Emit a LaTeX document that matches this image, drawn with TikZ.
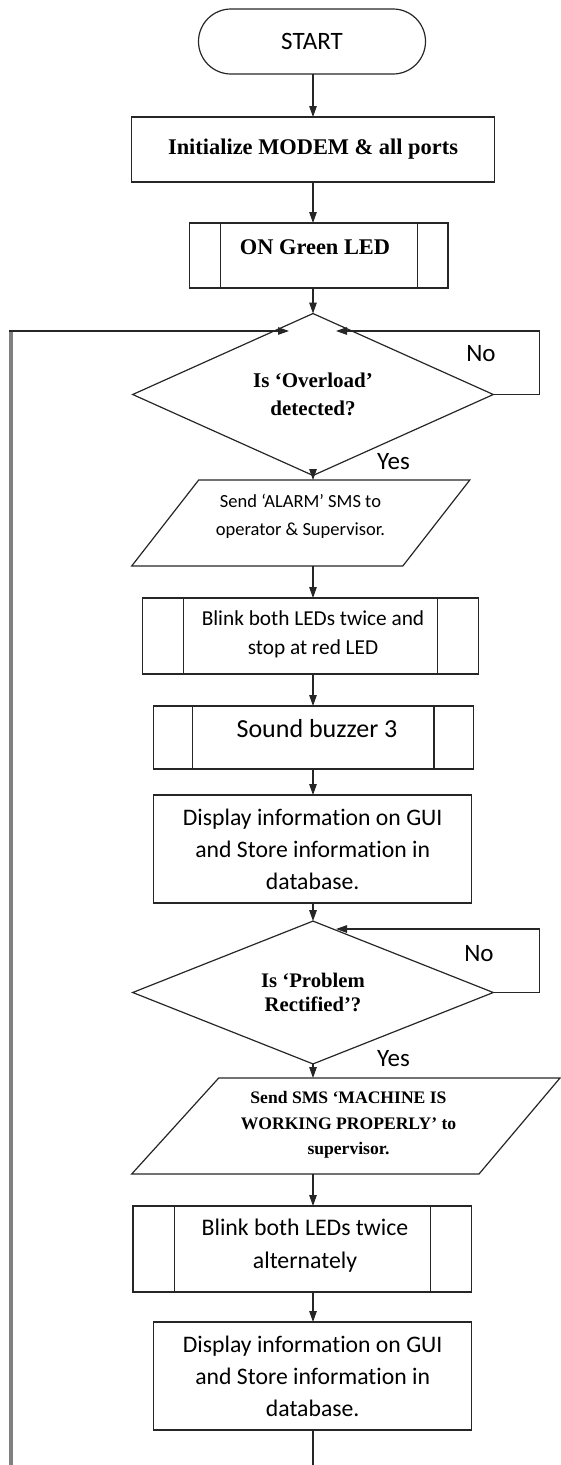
\documentclass[tikz,border=0pt]{standalone}
\usepackage{fontspec}
\setmainfont{Liberation Serif}
\newfontfamily\calib[Ligatures=NoCommon]{Carlito}
\usetikzlibrary{shapes.geometric,shapes.misc,arrows.meta}
\begin{document}
\begin{tikzpicture}[x=1pt,y=-1pt,
  line width=1.2pt,
  every node/.style={inner sep=0pt, outer sep=0pt, text=black},
  ln/.style={draw=black!85, line width=1.2pt},
  procbox/.style={ln, rectangle},
  termbox/.style={ln, rounded rectangle},
  decbox/.style={ln, diamond},
  arr/.style={draw=black!85, line width=1.2pt, -{Triangle[length=11pt,width=7.5pt]}},
  serifA/.style={font=\bfseries\fontsize{22.4}{28}\selectfont},
  serifB/.style={font=\bfseries\fontsize{21}{27.5}\selectfont, align=center},
  calA/.style={font=\calib\fontsize{23.7}{32}\selectfont, align=center},
  lab/.style={font=\calib\fontsize{25}{30}\selectfont}
]
\useasboundingbox (0,0) rectangle (561,1465);
\clip (0,0) rectangle (561,1465);
\coordinate (col) at (313,0);

% START
\node[termbox, minimum width=227pt, minimum height=65pt, font=\calib\fontsize{25}{30}\selectfont] (start) at (312,41.5) {START};

% Initialize
\node[procbox, minimum width=363.5pt, minimum height=65pt, serifA] (init) at (313,149.5) {Initialize MODEM \& all ports};

% ON Green LED (predefined process)
\node[procbox, minimum width=258.4pt, minimum height=65pt] (green) at (318.8,255.5) {};
\draw[ln] ([xshift=31pt]green.north west) -- ([xshift=31pt]green.south west);
\draw[ln] ([xshift=-30.5pt]green.north east) -- ([xshift=-30.5pt]green.south east);
\node[serifA] (t-green) at (315,247) {ON Green LED};

% Decision 1
\node[decbox, minimum width=360.6pt, minimum height=125pt, serifB] (d1) at (313,394.5) {Is ‘Overload’\\detected?};

% SMS 1 (parallelogram)
\node[minimum width=338.1pt, minimum height=86pt] (sms1) at (300.75,523) {};
\draw[ln] ([xshift=67pt]sms1.north west) -- (sms1.north east) -- ([xshift=-67pt]sms1.south east) -- (sms1.south west) -- cycle;
\node[font=\calib\fontsize{18.5}{28}\selectfont, align=center] (t-sms1) at (300.5,516) {Send ‘ALARM’ SMS to\\operator \& Supervisor.};

% Blink 1
\node[procbox, minimum width=336.3pt, minimum height=76pt] (blink1) at (310.55,636) {};
\draw[ln] ([xshift=40.8pt]blink1.north west) -- ([xshift=40.8pt]blink1.south west);
\draw[ln] ([xshift=-41.5pt]blink1.north east) -- ([xshift=-41.5pt]blink1.south east);
\node[font=\calib\fontsize{21.3}{29}\selectfont, align=center] (t-blink1) at (313,634) {Blink both LEDs twice and\\stop at red LED};

% Sound buzzer
\node[procbox, minimum width=319.5pt, minimum height=63pt] (sound) at (313.55,737.5) {};
\draw[ln] ([xshift=38.7pt]sound.north west) -- ([xshift=38.7pt]sound.south west);
\draw[ln] ([xshift=-39.3pt]sound.north east) -- ([xshift=-39.3pt]sound.south east);
\node[font=\calib\fontsize{26}{30}\selectfont] (t-sound) at (317,729) {Sound buzzer 3};

% Display 1
\node[procbox, minimum width=317.8pt, minimum height=108pt, calA] (disp1) at (312.7,849) {Display information on GUI\\and Store information in\\database.};

% Decision 2
\node[decbox, minimum width=360.6pt, minimum height=127pt, font=\bfseries\fontsize{20.7}{24.5}\selectfont, align=center] (d2) at (313,992.5) {Is ‘Problem\\Rectified’?};

% SMS 2
\node[minimum width=428.3pt, minimum height=96pt] (sms2) at (345.85,1126) {};
\draw[ln] ([xshift=87pt]sms2.north west) -- (sms2.north east) -- ([xshift=-81pt]sms2.south east) -- (sms2.south west) -- cycle;
\node[font=\bfseries\fontsize{17.6}{25.5}\selectfont, align=center] (t-sms2) at (348.5,1125) {Send SMS ‘MACHINE IS\\WORKING PROPERLY’ to\\supervisor.};

% Blink 2
\node[procbox, minimum width=338.6pt, minimum height=86pt] (blink2) at (302.3,1249) {};
\draw[ln] ([xshift=41.6pt]blink2.north west) -- ([xshift=41.6pt]blink2.south west);
\draw[ln] ([xshift=-41.2pt]blink2.north east) -- ([xshift=-41.2pt]blink2.south east);
\node[font=\calib\fontsize{23.8}{33}\selectfont, align=center] (t-blink2) at (305,1246) {Blink both LEDs twice\\alternately};

% Display 2
\node[procbox, minimum width=317.8pt, minimum height=108pt, calA] (disp2) at (312.7,1376) {Display information on GUI\\and Store information in\\database.};

% Labels
\node[lab] (no1) at (481,354) {No};
\node[lab] (yes1) at (393.5,462) {Yes};
\node[lab] (no2) at (479,954) {No};
\node[lab] (yes2) at (393.5,1059) {Yes};

% Main flow
\draw[arr] (start.south -| col) -- (init.north -| col);
\draw[arr] (init.south -| col) -- (green.north -| col);
\draw[arr] (green.south -| col) -- (d1.north);
\draw[arr] (d1.south) -- (sms1.north -| col);
\draw[arr] (sms1.south -| col) -- (blink1.north -| col);
\draw[arr] (blink1.south -| col) -- (sound.north -| col);
\draw[arr] (sound.south -| col) -- (disp1.north -| col);
\draw[arr] (disp1.south -| col) -- (d2.north);
\draw[arr] (d2.south) -- (sms2.north -| col);
\draw[arr] (sms2.south -| col) -- (blink2.north -| col);
\draw[arr] (blink2.south -| col) -- (disp2.north -| col);

% No loops
\coordinate (r1) at (539.5,331);
\coordinate (in1r) at (336,331);
\draw[arr] (d1.east) -- (d1.east -| r1) -- (r1) -- (in1r);
\coordinate (r2) at (539.5,929);
\coordinate (in2r) at (336,929);
\draw[arr] (d2.east) -- (d2.east -| r2) -- (r2) -- (in2r);

% Return loop (cut at bottom edge)
\coordinate (bot) at (313,1480);
\coordinate (lb) at (11.3,1480);
\coordinate (lt) at (11.3,331);
\coordinate (in1l) at (289,331);
\draw[ln] (disp2.south -| col) -- (bot);
\draw[draw=black!50, line width=3.8pt] (lb) -- (lt);
\draw[arr] ([xshift=-1.9pt]lt) -- (in1l);
\end{tikzpicture}
\end{document}
